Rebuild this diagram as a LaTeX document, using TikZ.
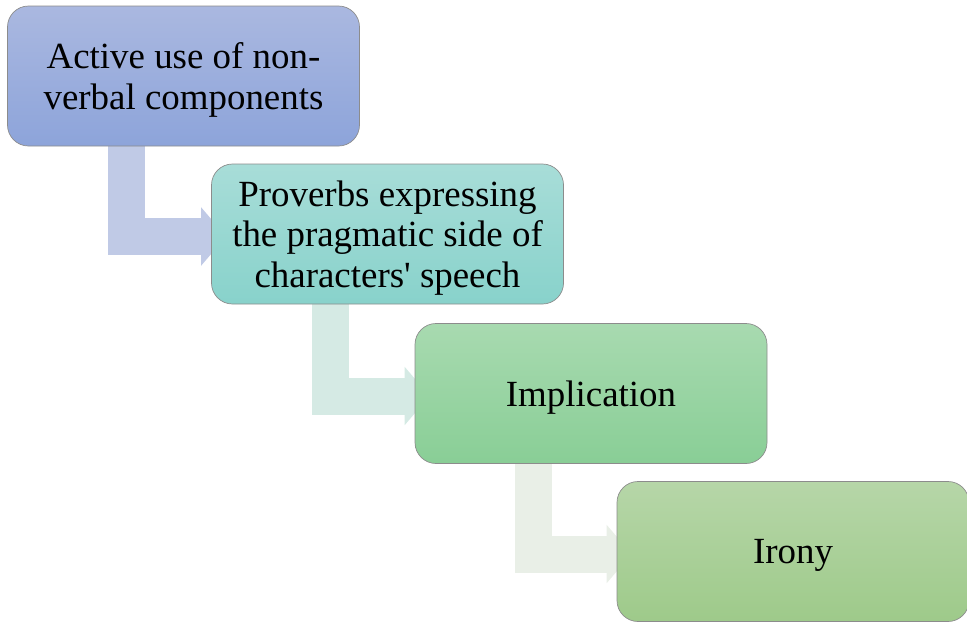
\documentclass[tikz,border=0pt]{standalone}
\usepackage{fontspec}
\setmainfont{Liberation Serif}
\usepackage{tikz}
\usetikzlibrary{arrows.meta,backgrounds}

\definecolor{blueTop}{RGB}{170,184,224}
\definecolor{blueBot}{RGB}{141,164,218}
\definecolor{tealTop}{RGB}{168,221,216}
\definecolor{tealBot}{RGB}{136,210,203}
\definecolor{greenTop}{RGB}{168,218,176}
\definecolor{greenBot}{RGB}{137,206,150}
\definecolor{limeTop}{RGB}{182,214,168}
\definecolor{limeBot}{RGB}{158,202,138}
\definecolor{arrowA}{RGB}{192,202,230}
\definecolor{arrowB}{RGB}{213,234,228}
\definecolor{arrowC}{RGB}{233,239,231}

\begin{document}
\begin{tikzpicture}[
    stagebox/.style={draw=black!45, rounded corners=0.42cm, minimum width=7.04cm,
        minimum height=2.8cm, align=center, text depth=0pt,
        font=\fontsize{21}{23}\selectfont},
    flowarrow/.style={line width=0.74cm, line join=miter,
        -{Triangle[length=0.5cm,width=1.14cm]}}
]
    \useasboundingbox (0,0) rectangle (19.34,-12.46);
    % Stages
    \node[stagebox, top color=blueTop, bottom color=blueBot] (b1) at (3.67,-1.52)
        {Active use of non-\\verbal components};
    \node[stagebox, top color=tealTop, bottom color=tealBot] (b2) at (7.75,-4.68)
        {Proverbs expressing\\the pragmatic side of\\characters\textquotesingle{} speech};
    \node[stagebox, top color=greenTop, bottom color=greenBot] (b3) at (11.82,-7.87)
        {Implication};
    \node[stagebox, top color=limeTop, bottom color=limeBot] (b4) at (15.86,-11.03)
        {Irony};
    % Bent arrows, behind the boxes
    \begin{pgfonlayer}{background}
        \draw[flowarrow, arrowA] ([xshift=-1.14cm]b1.south) |- ([xshift=0.3cm,yshift=-0.05cm]b2.west);
        \draw[flowarrow, arrowB] ([xshift=-1.15cm]b2.south) |- ([xshift=0.3cm,yshift=-0.05cm]b3.west);
        \draw[flowarrow, arrowC] ([xshift=-1.15cm]b3.south) |- ([xshift=0.3cm,yshift=-0.05cm]b4.west);
    \end{pgfonlayer}
\end{tikzpicture}
\end{document}
